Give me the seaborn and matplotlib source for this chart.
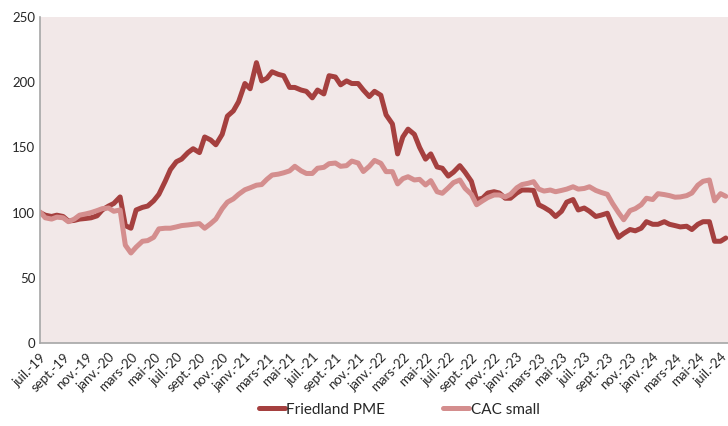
import pandas as pd
import matplotlib.pyplot as plt
import seaborn as sns

sns.set_style("white")
plt.rcParams['font.family'] = ['Lato', 'DejaVu Sans']

# Data: semi-monthly index values (base 100 in July 2019)
dates = pd.date_range("2019-07-01", periods=122, freq="SMS")

friedland = [100, 98, 97, 98, 97, 93.5, 94, 95, 95.5, 96,
             97.5, 102, 105, 107, 112, 90, 88, 102, 104, 105,
             109, 114, 124, 133, 139, 141, 146, 149, 146, 158,
             155.7, 152, 160, 174, 178, 185, 199, 195, 215, 201,
             203, 208, 206, 205, 196, 196, 194, 193, 188, 194,
             191, 205, 204, 198, 201, 199, 199, 194, 189, 193,
             190, 175, 168, 145, 158, 164, 160, 150, 141, 145,
             135, 134, 128, 131, 136, 131, 124, 110, 111, 115,
             116, 115, 111, 111, 115, 117.3, 117.3, 117, 106, 104,
             101, 97, 101, 108, 110, 102, 103.5, 101, 97, 98,
             99.5, 90, 81, 84, 87, 86, 88, 93, 91, 91,
             93, 91, 90, 89, 89.5, 87, 91, 93, 93, 78,
             78, 80.5]

cac_small = [100.5, 96, 95, 96.5, 96, 93, 95, 98, 99, 100,
             101.5, 103, 103.5, 101, 102, 75, 69, 73.5, 78, 78.5,
             81, 87.5, 88, 88, 89, 90, 90.5, 91, 91.5, 88,
             91.5, 95, 103, 108, 110.5, 114, 117.5, 119, 121, 121.5,
             125.5, 128.8, 129.5, 130.5, 132, 135.5, 132, 130, 130, 134,
             134.7, 137.5, 138, 135.5, 136, 139.5, 138, 131.5, 135.5, 140,
             137.8, 131.4, 131.4, 122, 126, 127.5, 125, 125.5, 121.2, 124.5,
             116, 114.8, 119, 123, 125, 118.6, 114, 106, 109, 111.5,
             113.5, 113.5, 112, 114, 119, 121.5, 122.5, 123.7, 118, 116.5,
             117.3, 116, 117, 118, 119.8, 118, 118.5, 119.8, 117, 115.5,
             114, 107, 100, 94.5, 101.5, 103, 106, 111, 110, 114.5,
             113.8, 113, 111.8, 112, 113, 115, 121, 124, 125, 109,
             114.5, 112.5]

series_names = ["Friedland PME", "CAC small"]
colors = ["#A5403F", "#D48E8E"]

month_fr = {1: "janv.", 3: "mars", 5: "mai", 7: "juil.", 9: "sept.", 11: "nov."}
tick_dates = pd.date_range("2019-07-01", "2024-07-01", freq="2MS")
tick_labels = [f"{month_fr[d.month]}-{d.strftime('%y')}" for d in tick_dates]

df = pd.DataFrame({"date": dates, series_names[0]: friedland, series_names[1]: cac_small})
df = df.melt(id_vars="date", var_name="Série", value_name="Indice")

fig = plt.figure(figsize=(7.28, 4.26), dpi=100)
ax = fig.add_axes([0.055, 0.195, 0.945, 0.765])
ax.set_facecolor("#F2E8E8")

sns.lineplot(data=df, x="date", y="Indice", hue="Série", palette=colors,
             linewidth=3.6, ax=ax)

ax.set_xlim(dates[0], pd.Timestamp("2024-07-21"))
ax.set_ylim(0, 250)
ax.set_yticks(range(0, 251, 50))
ax.set_xticks(tick_dates)
ax.set_xticklabels(tick_labels, rotation=45, ha="right", rotation_mode="anchor")
ax.tick_params(axis="both", length=0, labelsize=9.5, colors="#262626")
ax.tick_params(axis="x", pad=6)
ax.set_xlabel("")
ax.set_ylabel("")

for s in ["top", "right"]:
    ax.spines[s].set_visible(False)
ax.spines["left"].set_color("#A6A6A6")
ax.spines["bottom"].set_color("#A6A6A6")
ax.spines["left"].set_linewidth(1.2)
ax.spines["bottom"].set_linewidth(1.2)

ax.legend(loc="center", bbox_to_anchor=(0.522, -0.205), ncol=2, frameon=False,
          fontsize=11, handlelength=1.7, handletextpad=0.1, columnspacing=3.8)

fig.savefig("out.png", dpi=100)
